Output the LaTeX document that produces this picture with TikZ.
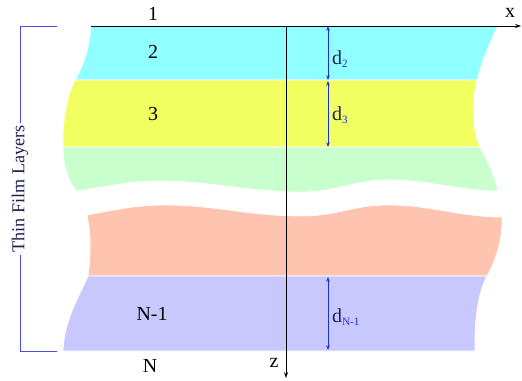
\documentclass[tikz,border=0pt]{standalone}
\usepackage{fontspec}
\setmainfont{Liberation Serif}
\usetikzlibrary{arrows.meta}
\definecolor{filmCyan}{HTML}{8FFFFF}
\definecolor{filmYellow}{HTML}{F2FF60}
\definecolor{filmGreen}{HTML}{C8FFCC}
\definecolor{filmSalmon}{HTML}{FFC4B0}
\definecolor{filmLilac}{HTML}{C8C8FF}
\definecolor{filmBlue}{HTML}{1A2EE0}
\definecolor{filmNavy}{HTML}{1C2050}
\definecolor{filmBrace}{HTML}{4A4AF0}
\newcommand{\dsub}[1]{d\raisebox{-3pt}{\color{filmBlue}\fontsize{9.5}{11}\selectfont #1}}

\begin{document}
\begin{tikzpicture}[x=0.03cm, y=-0.03cm,
    layer/.style={draw=white, line width=0.6pt},
    lbl/.style={font=\fontsize{17}{20}\selectfont, inner sep=0pt},
    axis/.style={black, line width=0.6pt, -{Stealth[length=5pt,width=3.5pt]}},
    dimarrow/.style={filmBlue, line width=0.8pt,
                 {Stealth[length=4pt,width=3pt]}-{Stealth[length=4pt,width=3pt]}},
    dlbl/.style={font=\fontsize{17}{20}\selectfont, text=filmNavy, anchor=west, inner sep=0pt},
    tag/.style={font=\fontsize{15.5}{18}\selectfont, text=filmNavy, rotate=90,
                fill=white, inner xsep=2pt, inner ysep=1pt},
  ]
  \useasboundingbox (0,0) rectangle (522,380);

  \fill[layer, fill=filmCyan] (91,26) -- (498,26) .. controls (488,45) and (481,65) .. (477,80)
    -- (75,80) .. controls (84,65) and (90,45) .. (91,26) -- cycle;
  \fill[layer, fill=filmYellow] (75,80) -- (477,80) .. controls (473,95) and (471,130) .. (480,147)
    -- (63,147) .. controls (62,120) and (68,92) .. (75,80) -- cycle;
  \fill[layer, fill=filmGreen] (63,147) -- (480,147) .. controls (487,160) and (495,175) .. (498,191)
    .. controls (460,191) and (430,180) .. (390,180)
    .. controls (350,180) and (340,192) .. (300,192)
    .. controls (250,192) and (210,181) .. (160,181)
    .. controls (130,181) and (110,186) .. (76,191)
    .. controls (68,180) and (63,165) .. (63,147) -- cycle;
  \fill[layer, fill=filmSalmon] (87,215)
    .. controls (115,210) and (135,205) .. (165,205)
    .. controls (215,205) and (250,216) .. (300,216)
    .. controls (340,216) and (350,205) .. (390,205)
    .. controls (430,205) and (460,217) .. (502,217)
    .. controls (503,240) and (495,262) .. (487,276)
    -- (88,276) .. controls (91,255) and (91,235) .. (87,215) -- cycle;
  \fill[layer, fill=filmLilac] (88,276) -- (487,276) .. controls (481,287) and (474,310) .. (475,351)
    -- (63,351) .. controls (64,320) and (80,295) .. (88,276) -- cycle;

  \coordinate (xstart) at (91,26);
  \coordinate (xend) at (521,26);
  \coordinate (origin) at (286,26);
  \coordinate (zend) at (286,378);
  \draw[axis] (xstart) -- (xend);
  \draw[axis] (origin) -- (zend);
  \node[lbl] (xlbl) at (510,13) {x};
  \node[lbl] (zlbl) at (274,363) {z};

  \node[lbl] (m1) at (153,14) {1};
  \node[lbl] (m2) at (153,52) {2};
  \node[lbl] (m3) at (153,114) {3};
  \node[lbl] (mN1) at (152,314) {N-1};
  \node[lbl] (mN) at (150,366) {N};

  \coordinate (d2a) at (328,26);
  \coordinate (d2b) at (328,80);
  \coordinate (d3a) at (328,81);
  \coordinate (d3b) at (328,147);
  \coordinate (dNa) at (328,277);
  \coordinate (dNb) at (328,350);
  \draw[dimarrow] (d2a) -- (d2b);
  \draw[dimarrow] (d3a) -- (d3b);
  \draw[dimarrow] (dNa) -- (dNb);
  \node[dlbl] (d2) at (332,59) {\dsub{2}};
  \node[dlbl] (d3) at (332,115) {\dsub{3}};
  \node[dlbl] (dN) at (332,317) {\dsub{N-1}};

  \coordinate (tagtop) at (57,26);
  \coordinate (tagbot) at (57,351);
  \draw[filmBrace, line width=0.8pt] (tagtop) -- (20,26) -- (20,351) -- (tagbot);
  \node[tag] (films) at (20,189) {Thin Film Layers};
\end{tikzpicture}
\end{document}
